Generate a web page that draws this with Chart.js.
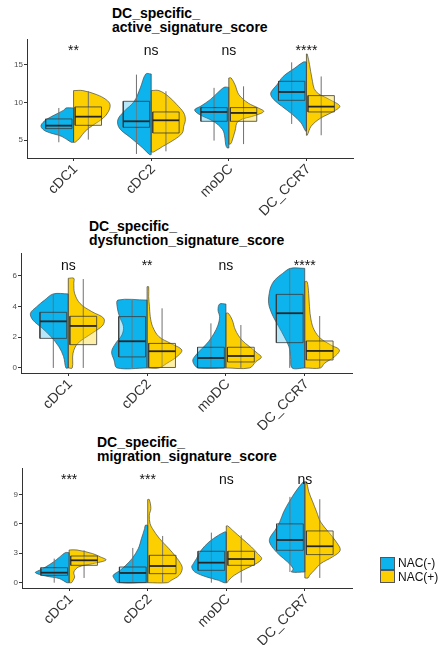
<!DOCTYPE html>
<html><head><meta charset="utf-8">
<script src="https://cdn.jsdelivr.net/npm/chart.js@4/dist/chart.umd.min.js"></script>
<style>
html,body{margin:0;padding:0;background:#fff}
body{width:439px;height:645px;position:relative;overflow:hidden;font-family:"Liberation Sans",Arial,sans-serif}
canvas{position:absolute;left:0}
.title{position:absolute;font-weight:bold;font-size:14px;line-height:13.5px;color:#000;white-space:pre}
.key{position:absolute;left:380px;width:15px;height:13px;box-sizing:border-box;border:0.5px solid #555}
.ktxt{position:absolute;left:398px;font-size:12px;line-height:14px;color:#111}
</style></head>
<body>
<div class="title" style="left:112px;top:7px">DC_specific_
active_signature_score</div>
<div class="title" style="left:89px;top:220px">DC_specific_
dysfunction_signature_score</div>
<div class="title" style="left:97px;top:436px">DC_specific_
migration_signature_score</div>
<canvas id="c1" width="439" height="230" style="top:0"></canvas>
<canvas id="c2" width="439" height="215" style="top:215px"></canvas>
<canvas id="c3" width="439" height="220" style="top:425px"></canvas>
<div class="key" style="top:557px;background:#0DB3EC"></div>
<div class="key" style="top:570px;background:#FCD000"></div>
<div class="ktxt" style="top:556px">NAC(-)</div>
<div class="ktxt" style="top:570px">NAC(+)</div>
<script>
// ---------- data ----------
const categories = ['cDC1', 'cDC2', 'moDC', 'DC_CCR7'];
const groups = ['NAC(-)', 'NAC(+)'];

// box stats: [min, q1, median, q3, max]
const activeNegStats = [[4.74, 6.54, 6.93, 7.81, 9.25], [3.2, 6.71, 7.5, 10.13, 13.64], [4.96, 7.5, 8.73, 9.3, 11.9], [7.15, 10.26, 11.36, 12.76, 15.26]];
const activePosStats = [[5.09, 6.97, 8.11, 9.39, 11.45], [3.55, 5.96, 7.63, 8.73, 11.45], [4.5, 7.5, 8.6, 9.3, 12.1], [5.66, 8.73, 9.43, 10.88, 13.4]];
// violin half densities: [value, relative width]
const activeNegViolin = [
  [[4.74,0.03],[5.5,0.15],[6.2,0.36],[6.84,0.42],[7.5,0.38],[8.15,0.28],[9.0,0.12],[9.25,0.1]],
  [[3.11,0.02],[4.0,0.11],[5.3,0.26],[6.6,0.41],[7.7,0.43],[8.8,0.35],[10.1,0.22],[11.9,0.14],[13.73,0.07]],
  [[3.99,0.02],[4.4,0.04],[5.3,0.05],[6.4,0.08],[7.5,0.2],[8.4,0.38],[9.0,0.44],[9.5,0.36],[10.35,0.24],[11.2,0.15],[11.97,0.06]],
  [[6.2,0.01],[7.3,0.07],[8.4,0.18],[9.5,0.32],[10.35,0.42],[11.0,0.46],[11.45,0.45],[12.3,0.38],[13.4,0.3],[14.5,0.15],[15.3,0.04]]
];
const activePosViolin = [
  [[4.74,0.02],[5.3,0.08],[6.2,0.15],[7.06,0.26],[7.9,0.38],[8.8,0.45],[9.7,0.47],[10.35,0.42],[11.0,0.3],[11.54,0.12]],
  [[3.46,0.03],[4.2,0.15],[5.1,0.3],[5.96,0.4],[6.84,0.42],[7.7,0.44],[8.6,0.42],[9.7,0.33],[10.8,0.22],[11.54,0.1]],
  [[4.5,0.02],[4.87,0.04],[6.2,0.08],[7.5,0.12],[8.3,0.35],[8.8,0.45],[9.25,0.38],[9.9,0.25],[11.0,0.13],[12.3,0.08],[13.2,0.03]],
  [[5.66,0.01],[6.84,0.06],[7.9,0.18],[8.8,0.35],[9.5,0.43],[10.35,0.3],[11.45,0.12],[13.2,0.07],[14.96,0.04],[16.36,0.01]]
];
const activeSig = ['**', 'ns', 'ns', '****'];
const activeSigY = 16.26;
const activeTicks = [5, 10, 15];

const dysNegStats = [[0, 1.93, 3.04, 3.63, 4.83], [0, 0.72, 1.74, 3.35, 4.43], [0, 0, 0.65, 1.35, 2.91], [0, 1.65, 3.57, 4.8, 6.5]];
const dysPosStats = [[0, 1.52, 2.74, 3.37, 5.8], [0, 0.03, 1.09, 1.6, 3.89], [0, 0.39, 0.78, 1.35, 2.8], [0, 0.52, 1.11, 1.76, 3.39]];
const dysNegViolin = [
  [[0,0.03],[0.74,0.06],[1.39,0.12],[2.04,0.22],[2.59,0.33],[3.13,0.45],[3.57,0.48],[4.0,0.4],[4.43,0.3],[4.83,0.19]],
  [[0,0.38],[0.52,0.42],[1.06,0.45],[1.6,0.4],[2.15,0.32],[2.7,0.3],[3.35,0.35],[4.0,0.38],[4.43,0.37]],
  [[0,0.35],[0.2,0.4],[0.52,0.42],[0.85,0.38],[1.28,0.3],[1.72,0.22],[2.26,0.15],[2.8,0.1],[3.35,0.08],[3.78,0.1],[4.17,0.08]],
  [[0,0.16],[0.74,0.18],[1.39,0.2],[2.04,0.26],[2.7,0.33],[3.35,0.4],[4.0,0.45],[4.43,0.46],[4.87,0.45],[5.3,0.43],[5.74,0.38],[6.17,0.28],[6.5,0.18]]
];
const dysPosViolin = [
  [[0,0.05],[0.96,0.06],[1.6,0.12],[2.26,0.3],[2.8,0.44],[3.24,0.45],[3.67,0.3],[4.2,0.15],[4.87,0.08],[5.52,0.07],[5.85,0.07]],
  [[0,0.15],[0.3,0.25],[0.74,0.38],[1.17,0.44],[1.6,0.3],[2.04,0.15],[2.7,0.07],[3.35,0.04],[4.0,0.03],[4.65,0.02],[5.3,0.02]],
  [[0,0.3],[0.41,0.38],[0.7,0.45],[0.96,0.4],[1.39,0.3],[1.83,0.2],[2.48,0.12],[3.13,0.08],[3.57,0.03]],
  [[0,0.2],[0.3,0.25],[0.74,0.38],[1.17,0.44],[1.5,0.33],[1.93,0.2],[2.48,0.12],[3.13,0.08],[4.0,0.06],[4.87,0.05],[5.63,0.03]]
];
const dysSig = ['ns', '**', 'ns', '****'];
const dysSigY = 6.4;
const dysTicks = [0, 2, 4, 6];

const migNegStats = [[0, 0.75, 1.02, 1.53, 2.45], [0, 0.02, 0.99, 1.6, 3.54], [0, 1.26, 2.04, 3.2, 5.1], [1.09, 3.3, 4.35, 5.99, 8.74]];
const migPosStats = [[0.48, 1.77, 2.28, 2.72, 3.3], [0, 0.92, 1.7, 2.79, 4.76], [0, 1.77, 2.41, 3.2, 4.83], [0.48, 2.86, 3.71, 5.27, 8.5]];
const migNegViolin = [
  [[0,0.03],[0.41,0.12],[0.68,0.3],[1.02,0.43],[1.26,0.38],[1.6,0.3],[2.11,0.2],[2.62,0.12],[3.06,0.05]],
  [[0,0.38],[0.34,0.42],[0.75,0.44],[1.26,0.35],[1.77,0.28],[2.45,0.2],[3.47,0.12],[4.49,0.08],[5.5,0.04],[5.85,0.03]],
  [[0,0.03],[0.24,0.1],[0.58,0.25],[1.09,0.4],[1.6,0.44],[1.94,0.42],[2.45,0.38],[3.3,0.32],[4.15,0.22],[4.83,0.1],[5.17,0.02]],
  [[1.09,0.17],[1.43,0.15],[2.11,0.22],[2.79,0.32],[3.47,0.4],[4.15,0.45],[4.66,0.44],[5.34,0.38],[6.19,0.32],[7.21,0.27],[8.23,0.2],[9.25,0.12],[10.27,0.02]]
];
const migPosViolin = [
  [[0,0.03],[0.24,0.05],[0.58,0.07],[1.09,0.06],[1.6,0.12],[1.94,0.3],[2.31,0.47],[2.62,0.4],[2.96,0.3],[3.33,0.1]],
  [[0,0.25],[0.24,0.3],[0.75,0.4],[1.43,0.44],[1.94,0.42],[2.62,0.36],[3.47,0.27],[4.49,0.15],[5.51,0.06],[6.02,0.03],[6.87,0.02],[7.55,0.04],[8.47,0.02]],
  [[0,0.01],[0.24,0.03],[0.75,0.1],[1.43,0.25],[1.94,0.38],[2.45,0.45],[2.96,0.4],[3.64,0.32],[4.49,0.2],[5.34,0.08],[5.78,0.02]],
  [[0.48,0.04],[0.75,0.06],[1.26,0.12],[1.94,0.2],[2.62,0.35],[3.3,0.45],[4.15,0.4],[5.17,0.3],[6.19,0.2],[7.21,0.15],[8.23,0.1],[9.25,0.05],[10.27,0.02]]
];
const migSig = ['***', '***', 'ns', 'ns'];
const migSigY = 10.1;
const migTicks = [0, 3, 6, 9];

// ---------- styling ----------
const FONT = '"Liberation Sans", Arial, sans-serif';
const COLORS = ['#0DB3EC', '#FCD000'];
const BOX_FILL = ['rgba(13,179,236,0.3)', 'rgba(252,208,0,0.35)'];
const OUTLINE = '#4a4a4a';
const BOX_OFF = 0.19, BOX_HW = 0.17;

function buildDatasets(negStats, posStats, negViolin, posViolin) {
  const L = {violin: [], split: [], whisker: [], box: [], median: []};
  const statsArr = [negStats, posStats], violArr = [negViolin, posViolin];
  categories.forEach((cat, i) => {
    const c = i + 1;
    [0, 1].forEach(g => {
      const side = g === 0 ? -1 : 1;
      const v = violArr[g][i];
      const y0 = v[0][0], yn = v[v.length - 1][0];
      const pts = [{x: c, y: y0}];
      v.forEach(([y, w]) => pts.push({x: c + side * w, y}));
      pts.push({x: c, y: yn});
      L.violin.push({label: groups[g], data: pts, fill: 'shape', backgroundColor: COLORS[g],
        borderColor: OUTLINE, borderWidth: 0.7, tension: 0.35});
      L.split.push({data: [{x: c, y: y0}, {x: c, y: yn}], borderColor: OUTLINE, borderWidth: 0.8, fill: false, tension: 0});
      const [mn, q1, md, q3, mx] = statsArr[g][i];
      const bx = c + side * BOX_OFF;
      L.whisker.push({data: [{x: bx, y: mn}, {x: bx, y: mx}], borderColor: '#707070', borderWidth: 1, fill: false, tension: 0});
      L.box.push({data: [{x: bx - BOX_HW, y: q1}, {x: bx + BOX_HW, y: q1}, {x: bx + BOX_HW, y: q3}, {x: bx - BOX_HW, y: q3}, {x: bx - BOX_HW, y: q1}],
        fill: 'shape', backgroundColor: BOX_FILL[g], borderColor: '#3a3a3a', borderWidth: 0.8, tension: 0});
      L.median.push({data: [{x: bx - BOX_HW, y: md}, {x: bx + BOX_HW, y: md}], borderColor: '#262626', borderWidth: 1.8, fill: false, tension: 0});
    });
  });
  const list = [...L.violin, ...L.split, ...L.whisker, ...L.box, ...L.median];
  list.forEach((d, k) => { d.order = list.length - k; d.pointRadius = 0; d.pointHoverRadius = 0; });
  return list;
}

const sigPlugin = {
  id: 'sig',
  afterDatasetsDraw(chart, args, opts) {
    const {ctx, scales: {x, y}} = chart;
    ctx.save();
    ctx.font = '14px ' + FONT;
    ctx.fillStyle = '#111';
    ctx.textAlign = 'center';
    ctx.textBaseline = 'alphabetic';
    opts.labels.forEach((t, i) => ctx.fillText(t, x.getPixelForValue(i + 1), y.getPixelForValue(opts.y)));
    ctx.restore();
  }
};

function makeChart(id, H, box, yMin, yMax, yTicks, datasets, sig, sigY) {
  new Chart(document.getElementById(id), {
    type: 'line',
    data: {datasets},
    plugins: [sigPlugin],
    options: {
      responsive: false, animation: false, events: [],
      layout: {padding: {top: box.top, right: 439 - box.right, left: 0, bottom: 0}},
      plugins: {legend: {display: false}, tooltip: {enabled: false}, sig: {labels: sig, y: sigY}},
      scales: {
        x: {type: 'linear', min: 0.4, max: 4.6,
          afterBuildTicks: s => { s.ticks = categories.map((_, i) => ({value: i + 1})); },
          afterFit: s => { s.height = H - box.bottom; },
          ticks: {autoSkip: false, minRotation: 45, maxRotation: 45, padding: 0, labelOffset: 2, color: '#333',
            font: {family: FONT, size: 14}, callback: (v, idx) => categories[idx]},
          grid: {drawOnChartArea: false, drawTicks: true, tickLength: 3, color: '#333', lineWidth: 1},
          border: {display: true, color: '#333', width: 1}},
        y: {type: 'linear', min: yMin, max: yMax,
          afterBuildTicks: s => { s.ticks = yTicks.map(v => ({value: v})); },
          afterFit: s => { s.width = box.left; },
          ticks: {padding: 1, color: '#4d4d4d', font: {family: FONT, size: 8}},
          grid: {drawOnChartArea: false, drawTicks: true, tickLength: 3, color: '#333', lineWidth: 1},
          border: {display: true, color: '#333', width: 1}}
      }
    }
  });
}

makeChart('c1', 230, {left: 27, right: 353, top: 39, bottom: 158}, 2.67, 18.33, activeTicks,
  buildDatasets(activeNegStats, activePosStats, activeNegViolin, activePosViolin), activeSig, activeSigY);
makeChart('c2', 215, {left: 21, right: 352, top: 38, bottom: 158}, -0.33, 7.5, dysTicks,
  buildDatasets(dysNegStats, dysPosStats, dysNegViolin, dysPosViolin), dysSig, dysSigY);
makeChart('c3', 220, {left: 22, right: 352, top: 43, bottom: 163}, -0.54, 11.68, migTicks,
  buildDatasets(migNegStats, migPosStats, migNegViolin, migPosViolin), migSig, migSigY);
</script>
</body></html>
